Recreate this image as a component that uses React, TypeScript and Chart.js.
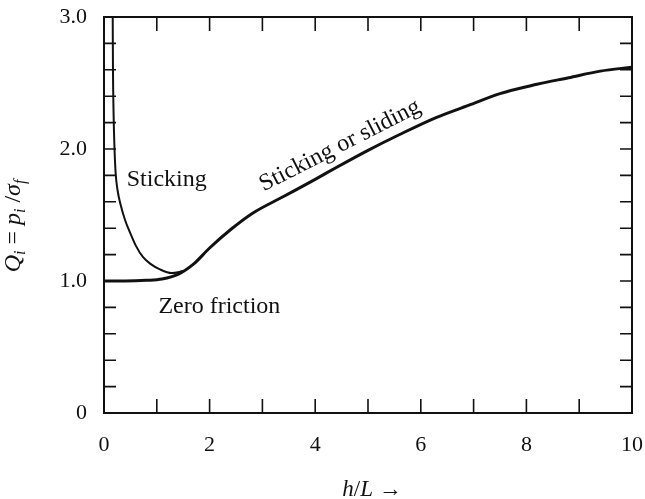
import React, { useEffect, useRef } from "react";
import { Chart, registerables } from "chart.js";

Chart.register(...registerables);

// ---- data ----
const mainX = [0, 0.4, 0.8, 1.1, 1.4, 1.7, 2.0, 2.4, 2.8, 3.4, 4.0, 4.4, 5.0, 5.6, 6.3, 6.9, 7.5, 8.2, 8.8, 9.4, 10];
const mainY = [1.0, 1.0, 1.005, 1.015, 1.05, 1.13, 1.25, 1.39, 1.51, 1.64, 1.77, 1.86, 1.99, 2.11, 2.24, 2.33, 2.42, 2.49, 2.54, 2.59, 2.62];
const stickX = [0.165, 0.17, 0.18, 0.195, 0.22, 0.26, 0.32, 0.4, 0.49, 0.6, 0.74, 0.88, 1.05, 1.28, 1.5];
const stickY = [3.0, 2.6, 2.3, 2.05, 1.82, 1.68, 1.57, 1.46, 1.37, 1.27, 1.18, 1.13, 1.09, 1.06, 1.075];

const xMin = 0;
const xMax = 10;
const xStep = 1;
const xLabelEvery = 2;
const yMin = 0;
const yMax = 3;
const yStep = 0.2;

const annotations = [
  { text: "Sticking", x: 0.43, y: 1.77, align: "left", rot: 0 },
  { text: "Zero friction", x: 1.03, y: 0.805, align: "left", rot: 0 },
  { text: "Sticking or sliding", x: 4.47, y: 2.025, align: "center", rot: -27 },
];

const FAMILY = "'Liberation Serif', 'DejaVu Serif', serif";
const INK = "#111";

type Seg = { t: string; it?: boolean; sub?: boolean };

function drawRich(ctx: CanvasRenderingContext2D, segs: Seg[], size: number) {
  const fontFor = (s: Seg) => `${s.it ? "italic " : ""}${s.sub ? Math.round(size * 0.68) : size}px ${FAMILY}`;
  const widths = segs.map((s) => {
    ctx.font = fontFor(s);
    return ctx.measureText(s.t).width;
  });
  const total = widths.reduce((a, b) => a + b, 0);
  let x = -total / 2;
  ctx.textBaseline = "alphabetic";
  ctx.textAlign = "left";
  segs.forEach((s, i) => {
    ctx.font = fontFor(s);
    ctx.fillText(s.t, x, size * 0.33 + (s.sub ? size * 0.22 : 0));
    x += widths[i];
  });
}

const framePlugin = {
  id: "frameTicks",
  afterDraw(chart: any) {
    const ctx: CanvasRenderingContext2D = chart.ctx;
    const { left, right, top, bottom } = chart.chartArea;
    const xs = chart.scales.x;
    const ys = chart.scales.y;
    ctx.save();
    ctx.strokeStyle = INK;
    ctx.fillStyle = INK;
    // frame
    ctx.lineWidth = 2;
    ctx.strokeRect(left, top, right - left, bottom - top);
    // inward ticks
    ctx.lineWidth = 1.6;
    ctx.beginPath();
    xs.ticks.forEach((t: any) => {
      const px = xs.getPixelForValue(t.value);
      ctx.moveTo(px, bottom);
      ctx.lineTo(px, bottom - 14);
      ctx.moveTo(px, top);
      ctx.lineTo(px, top + 14);
    });
    ys.ticks.forEach((t: any) => {
      const py = ys.getPixelForValue(t.value);
      ctx.moveTo(left, py);
      ctx.lineTo(left + 12, py);
      ctx.moveTo(right, py);
      ctx.lineTo(right - 12, py);
    });
    ctx.stroke();

    // annotations
    annotations.forEach((a) => {
      const px = xs.getPixelForValue(a.x);
      const py = ys.getPixelForValue(a.y);
      ctx.save();
      ctx.translate(px, py);
      ctx.rotate((a.rot * Math.PI) / 180);
      ctx.font = `24px ${FAMILY}`;
      ctx.textAlign = a.align as CanvasTextAlign;
      ctx.textBaseline = "middle";
      ctx.fillText(a.text, 0, 0);
      ctx.restore();
    });

    // y title
    ctx.save();
    ctx.translate(left - 92, (top + bottom) / 2 + 11);
    ctx.rotate(-Math.PI / 2);
    drawRich(
      ctx,
      [
        { t: "Q", it: true },
        { t: "i", it: true, sub: true },
        { t: " = " },
        { t: "p", it: true },
        { t: "i", it: true, sub: true },
        { t: " /" },
        { t: "σ", it: true },
        { t: "f", it: true, sub: true },
      ],
      24
    );
    ctx.restore();

    // x title
    ctx.save();
    ctx.translate((left + right) / 2 + 4, 488);
    drawRich(
      ctx,
      [
        { t: "h", it: true },
        { t: "/" },
        { t: "L", it: true },
        { t: " →" },
      ],
      23
    );
    ctx.restore();
    ctx.restore();
  },
};

export default function App() {
  const ref = useRef<HTMLCanvasElement | null>(null);
  useEffect(() => {
    if (!ref.current) return;
    const isInt = (v: number) => Math.abs(v - Math.round(v)) < 1e-6;
    const chart = new Chart(ref.current, {
      type: "scatter",
      data: {
        datasets: [
          {
            label: "Sticking or sliding",
            data: mainX.map((x, i) => ({ x, y: mainY[i] })),
            showLine: true,
            borderColor: INK,
            borderWidth: 3,
            pointRadius: 0,
            cubicInterpolationMode: "monotone",
          },
          {
            label: "Sticking",
            data: stickX.map((x, i) => ({ x, y: stickY[i] })),
            showLine: true,
            borderColor: INK,
            borderWidth: 2,
            pointRadius: 0,
            cubicInterpolationMode: "monotone",
          },
        ],
      },
      options: {
        animation: false,
        responsive: true,
        maintainAspectRatio: false,
        layout: { padding: { left: 0, top: 17, right: 13, bottom: 0 } },
        plugins: { legend: { display: false }, tooltip: { enabled: false } },
        scales: {
          x: {
            type: "linear",
            min: xMin,
            max: xMax,
            grid: { display: false, drawTicks: false },
            border: { display: false },
            ticks: {
              stepSize: xStep,
              autoSkip: false,
              maxRotation: 0,
              padding: 19,
              color: INK,
              font: { family: FAMILY, size: 22 },
              callback: (v: any) => (isInt(v) && Math.round(v) % xLabelEvery === 0 ? String(Math.round(v)) : ""),
            },
            afterFit: (s: any) => {
              s.height = 86;
              s.paddingLeft = 0;
              s.paddingRight = 0;
            },
          },
          y: {
            type: "linear",
            min: yMin,
            max: yMax,
            grid: { display: false, drawTicks: false },
            border: { display: false },
            ticks: {
              stepSize: yStep,
              autoSkip: false,
              padding: 17,
              color: INK,
              font: { family: FAMILY, size: 22 },
              callback: (v: any) => (isInt(v) ? (Math.round(v) === 0 ? "0" : Math.round(v).toFixed(1)) : ""),
            },
            afterFit: (s: any) => {
              s.width = 104;
              s.paddingTop = 0;
              s.paddingBottom = 0;
            },
          },
        },
      },
      plugins: [framePlugin],
    } as any);
    return () => chart.destroy();
  }, []);
  return (
    <div style={{ position: "fixed", left: 0, top: 0, width: 645, height: 499, background: "#fff" }}>
      <canvas ref={ref} />
    </div>
  );
}
